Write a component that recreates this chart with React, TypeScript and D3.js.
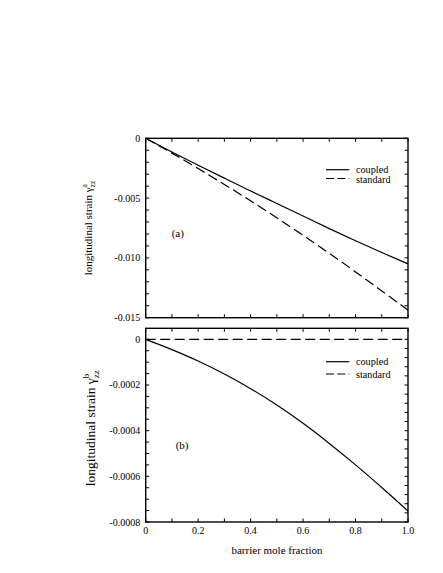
import React from "react";
import * as d3 from "d3";

// ---------- data ----------
const fractions = [0, 0.1, 0.2, 0.3, 0.4, 0.5, 0.6, 0.7, 0.8, 0.9, 1.0];
const coupledA = [0, -0.00115, -0.00225, -0.00333, -0.0044, -0.00545, -0.0065, -0.00755, -0.00857, -0.00955, -0.0105];
const standardA = [0, -0.00124, -0.00253, -0.00386, -0.00523, -0.00665, -0.00811, -0.00962, -0.01117, -0.01276, -0.01436];
const coupledB = [0, -0.000045, -0.000095, -0.000152, -0.000216, -0.000288, -0.000368, -0.000456, -0.00055, -0.000649, -0.000752];
const standardB = [0, 0, 0, 0, 0, 0, 0, 0, 0, 0, 0];

const xTicks = [0, 0.2, 0.4, 0.6, 0.8, 1.0];
const xTickLabels = ["0", "0.2", "0.4", "0.6", "0.8", "1.0"];
const yTicksA = [0, -0.005, -0.01, -0.015];
const yTickLabelsA = ["0", "-0.005", "-0.010", "-0.015"];
const yTicksB = [0, -0.0002, -0.0004, -0.0006, -0.0008];
const yTickLabelsB = ["0", "-0.0002", "-0.0004", "-0.0006", "-0.0008"];
const seriesNames = ["coupled", "standard"];

// ---------- layout ----------
const W = 443, H = 573;
const L = 145.7, R = 408;
const topA = 138.3, botA = 317.7;
const topB = 328.3, botB = 522;
const FONT = "Liberation Serif, Times New Roman, DejaVu Serif, serif";
const DASH = "10,4.5";

const x = d3.scaleLinear().domain([0, 1]).range([L, R]);
const yA = d3.scaleLinear().domain([-0.015, 0]).range([botA, topA]);
const yB = d3.scaleLinear().domain([-0.0008, 0.0000483]).range([botB, topB]);

function lineGen(y: d3.ScaleLinear<number, number>) {
  return d3
    .line<number>()
    .x((_, i) => x(fractions[i]))
    .y((d) => y(d))
    .curve(d3.curveMonotoneX);
}

const txt = { fontFamily: FONT } as React.CSSProperties;

function Frame({ top, bot, y, leftMinor, rightMinor, yTicks, yLabels }: any) {
  const xMinor = d3.range(0, 1.0001, 0.1);
  const tl = 3.5;
  const lm = leftMinor.filter((v: number) => y(v) >= top - 0.1 && y(v) <= bot + 0.1);
  const rm = rightMinor.filter((v: number) => y(v) >= top - 0.1 && y(v) <= bot + 0.1);
  return (
    <g>
      <rect x={L} y={top} width={R - L} height={bot - top} fill="none" stroke="#000" strokeWidth={1.4} />
      {xMinor.map((v: number, i: number) => (
        <g key={"x" + i}>
          <line x1={x(v)} x2={x(v)} y1={top} y2={top + tl} stroke="#000" strokeWidth={1} />
          <line x1={x(v)} x2={x(v)} y1={bot} y2={bot - tl} stroke="#000" strokeWidth={1} />
        </g>
      ))}
      {lm.map((v: number, i: number) => (
        <line key={"l" + i} x1={L} x2={L + tl} y1={y(v)} y2={y(v)} stroke="#000" strokeWidth={1} />
      ))}
      {rm.map((v: number, i: number) => (
        <line key={"r" + i} x1={R} x2={R - tl} y1={y(v)} y2={y(v)} stroke="#000" strokeWidth={1} />
      ))}
      {yTicks.map((v: number, i: number) => (
        <text key={"t" + i} x={L - 5.5} y={y(v) + 3.5} textAnchor="end" fontSize={10} style={txt} fill="#000">
          {yLabels[i]}
        </text>
      ))}
    </g>
  );
}

function Legend({ y0, y1 }: { y0: number; y1: number }) {
  return (
    <g>
      <line x1={326} x2={349.3} y1={y0} y2={y0} stroke="#000" strokeWidth={1.2} />
      <text x={356} y={y0 + 2.8} fontSize={10.2} style={txt} fill="#000">{seriesNames[0]}</text>
      <line x1={326} x2={349.3} y1={y1} y2={y1} stroke="#000" strokeWidth={1.2} strokeDasharray="8,3.3" />
      <text x={356} y={y1 + 4} fontSize={10.2} style={txt} fill="#000">{seriesNames[1]}</text>
    </g>
  );
}

export default function App() {
  const gA = lineGen(yA);
  const gB = lineGen(yB);
  const minorA = d3.range(0, -0.01501, -0.001);
  const minorBLeft = d3.range(0, -0.00080001, -0.00005);
  const minorBRight = d3.range(0, -0.00080001, -0.00004);
  const cyA = (topA + botA) / 2;
  const cyB = (topB + botB) / 2 + 3;
  return (
    <svg width={W} height={H} style={{ position: "absolute", left: 0, top: 0, background: "#fff" }}>
      <rect x={0} y={0} width={W} height={H} fill="#fff" />
      {/* panel (a) */}
      <Frame top={topA} bot={botA} y={yA} leftMinor={minorA} rightMinor={minorA} yTicks={yTicksA} yLabels={yTickLabelsA} />
      <path d={gA(coupledA) as string} fill="none" stroke="#000" strokeWidth={1.2} />
      <path d={gA(standardA) as string} fill="none" stroke="#000" strokeWidth={1.2} strokeDasharray={DASH} />
      <Legend y0={169.7} y1={178.5} />
      <text x={171.7} y={237.3} fontSize={11} style={txt} fill="#000">(a)</text>
      <text transform={`translate(92,${cyA}) rotate(-90)`} textAnchor="middle" fontSize={11} style={txt} fill="#000">
        longitudinal strain γ
        <tspan fontSize={7.5} dy={-5}>a</tspan>
        <tspan fontSize={7.5} dx={-3.3} dy={8}>zz</tspan>
      </text>

      {/* panel (b) */}
      <Frame top={topB} bot={botB} y={yB} leftMinor={minorBLeft} rightMinor={minorBRight} yTicks={yTicksB} yLabels={yTickLabelsB} />
      <path d={gB(coupledB) as string} fill="none" stroke="#000" strokeWidth={1.2} />
      <path d={gB(standardB) as string} fill="none" stroke="#000" strokeWidth={1.2} strokeDasharray={DASH} />
      <Legend y0={361.7} y1={374} />
      <text x={175.7} y={449} fontSize={11} style={txt} fill="#000">(b)</text>
      <text transform={`translate(95,${cyB}) rotate(-90)`} textAnchor="middle" fontSize={13.5} style={txt} fill="#000">
        longitudinal strain γ
        <tspan fontSize={9} dy={-6}>b</tspan>
        <tspan fontSize={9} dx={-4.5} dy={10}>zz</tspan>
      </text>

      {/* x axis labels */}
      {xTicks.map((v, i) => (
        <text key={i} x={x(v)} y={534.3} textAnchor="middle" fontSize={10} style={txt} fill="#000">
          {xTickLabels[i]}
        </text>
      ))}
      <text x={277} y={554.3} textAnchor="middle" fontSize={11} style={txt} fill="#000">barrier mole fraction</text>
    </svg>
  );
}
